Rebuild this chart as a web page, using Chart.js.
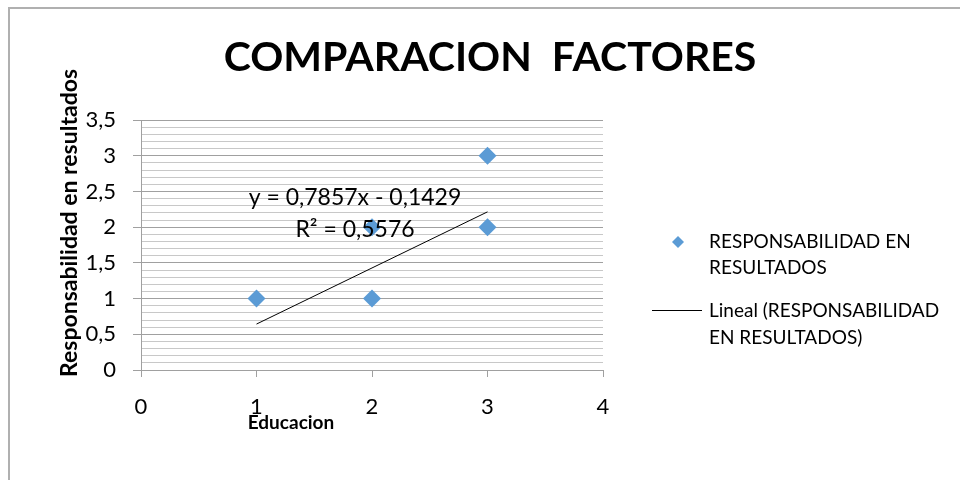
<!DOCTYPE html>
<html>
<head>
<meta charset="utf-8">
<script src="https://cdn.jsdelivr.net/npm/chart.js@4.4.1/dist/chart.umd.min.js"></script>
<style>
  html, body { margin: 0; padding: 0; background: #fff; }
  #wrap { width: 960px; height: 480px; position: relative; }
</style>
</head>
<body>
<div id="wrap"><canvas id="grafico" width="960" height="480"></canvas></div>
<script>
// datos
const educacion = [1, 2, 2, 3, 3];
const responsabilidad = [1, 1, 2, 2, 3];
// linea de tendencia (extremos)
const lineaX = [1, 3];
const lineaY = [0.643, 2.214];

const titulo = 'COMPARACION  FACTORES';
const tituloX = 'Educacion';
const tituloY = 'Responsabilidad en resultados';
const ecuacion = ['y = 0,7857x - 0,1429', 'R² = 0,5576'];
const leyendaSerie = ['RESPONSABILIDAD EN', 'RESULTADOS'];
const leyendaLineal = ['Lineal (RESPONSABILIDAD', 'EN RESULTADOS)'];

const FUENTE = 'Lato, "Open Sans", sans-serif';
const AZUL = '#5b9bd5';
const GRIS = '#a0a0a0';

const esMayor = v => Math.abs(v * 2 - Math.round(v * 2)) < 1e-6;

// textos, leyenda y borde dibujados sobre el canvas
const textos = {
  id: 'textos',
  afterDraw(chart) {
    const ctx = chart.ctx;
    ctx.save();

    // borde del grafico
    ctx.strokeStyle = '#b0b0b0';
    ctx.lineWidth = 2;
    ctx.beginPath();
    ctx.moveTo(960, 8);
    ctx.lineTo(9, 8);
    ctx.lineTo(9, 480);
    ctx.stroke();

    ctx.fillStyle = '#000';
    ctx.textAlign = 'center';
    ctx.textBaseline = 'middle';

    ctx.font = 'bold 41px ' + FUENTE;
    ctx.fillText(titulo, 490, 58);

    ctx.font = 'bold 19px ' + FUENTE;
    ctx.fillText(tituloX, 291, 423);

    ctx.save();
    ctx.translate(70, 223);
    ctx.rotate(-Math.PI / 2);
    ctx.font = 'bold 23px ' + FUENTE;
    ctx.fillText(tituloY, 0, 0);
    ctx.restore();

    // ecuacion de la tendencia
    ctx.font = '23px ' + FUENTE;
    ctx.fillText(ecuacion[0], 355, 198);
    ctx.fillText(ecuacion[1], 355, 230);

    // leyenda
    ctx.textAlign = 'left';
    ctx.font = '19px ' + FUENTE;
    ctx.fillStyle = AZUL;
    ctx.beginPath();
    ctx.moveTo(678, 236);
    ctx.lineTo(684, 242);
    ctx.lineTo(678, 248);
    ctx.lineTo(672, 242);
    ctx.closePath();
    ctx.fill();
    ctx.fillStyle = '#000';
    ctx.fillText(leyendaSerie[0], 709, 242);
    ctx.fillText(leyendaSerie[1], 709, 268);

    ctx.strokeStyle = '#000';
    ctx.lineWidth = 1;
    ctx.beginPath();
    ctx.moveTo(652, 310.5);
    ctx.lineTo(702, 310.5);
    ctx.stroke();
    ctx.fillText(leyendaLineal[0], 709, 311);
    ctx.fillText(leyendaLineal[1], 709, 338);

    ctx.restore();
  }
};

new Chart(document.getElementById('grafico'), {
  type: 'scatter',
  data: {
    datasets: [
      {
        label: leyendaSerie.join(' '),
        data: educacion.map((x, i) => ({ x: x, y: responsabilidad[i] })),
        pointStyle: 'rectRot',
        pointRadius: 9,
        pointHoverRadius: 9,
        backgroundColor: AZUL,
        borderColor: AZUL,
        borderWidth: 0
      },
      {
        type: 'line',
        label: leyendaLineal.join(' '),
        data: lineaX.map((x, i) => ({ x: x, y: lineaY[i] })),
        borderColor: '#000',
        borderWidth: 1,
        pointRadius: 0,
        fill: false
      }
    ]
  },
  options: {
    responsive: false,
    animation: false,
    events: [],
    layout: { padding: { left: 0, right: 357, top: 120, bottom: 0 } },
    plugins: {
      legend: { display: false },
      title: { display: false },
      tooltip: { enabled: false }
    },
    scales: {
      x: {
        type: 'linear',
        min: 0,
        max: 4,
        afterFit: s => { s.height = 110; },
        ticks: {
          stepSize: 1,
          color: '#000',
          padding: 17,
          font: { family: FUENTE, size: 22 }
        },
        grid: {
          drawOnChartArea: false,
          tickLength: 7,
          tickColor: GRIS
        },
        border: { color: GRIS }
      },
      y: {
        type: 'linear',
        min: 0,
        max: 3.5,
        afterFit: s => { s.width = 141; },
        ticks: {
          stepSize: 0.1,
          autoSkip: false,
          color: '#000',
          padding: 17,
          font: { family: FUENTE, size: 22 },
          callback: v => esMayor(v) ? String(Math.round(v * 10) / 10).replace('.', ',') : ''
        },
        grid: {
          tickLength: 8,
          color: c => esMayor(c.tick.value) ? '#a0a0a0' : '#c8c8c8',
          tickColor: c => esMayor(c.tick.value) ? GRIS : 'rgba(0,0,0,0)'
        },
        border: { color: GRIS }
      }
    }
  },
  plugins: [textos]
});
</script>
</body>
</html>
